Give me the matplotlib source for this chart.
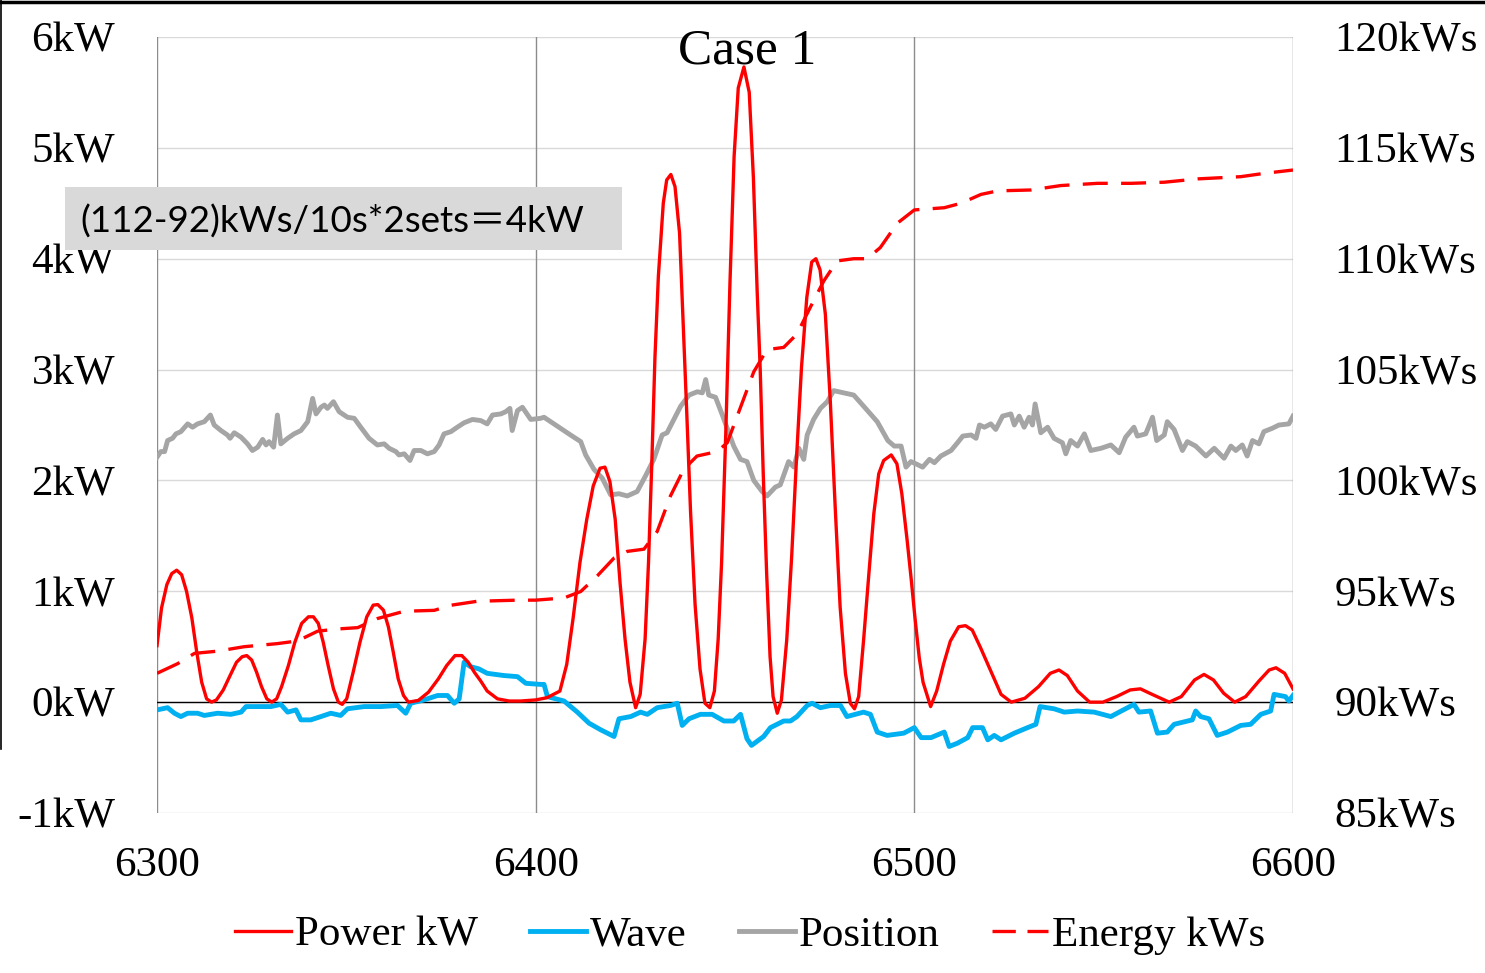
import matplotlib
matplotlib.use("Agg")
import matplotlib.pyplot as plt
from matplotlib.patches import Rectangle
from matplotlib.lines import Line2D

# ---- data ----
power_t = [6300, 6301.2, 6302.6, 6303.9, 6305.2, 6306.5, 6307.8, 6309.2, 6310.5, 6311.8,
           6313.1, 6314.4, 6315.7, 6317.5, 6319.3, 6321.0, 6322.5, 6323.7, 6325.0, 6326.3,
           6327.6, 6329.0, 6330.3, 6331.6, 6332.9, 6334.7, 6336.4, 6338.2, 6340.0, 6341.3,
           6342.6, 6343.9, 6345.2, 6346.6, 6347.9, 6348.9, 6350.1, 6351.8, 6353.6, 6355.4,
           6357.1, 6358.3, 6359.8, 6361.1, 6362.4, 6363.7, 6365.1, 6366.4, 6369.0, 6371.7,
           6374.3, 6376.5, 6378.7, 6380.5, 6382.2, 6383.8, 6385.5, 6387.2, 6389.9, 6393,
           6396, 6400, 6403, 6406.4, 6408.2, 6409.9, 6411.7, 6413.5, 6415.2, 6417.0,
           6418.3, 6419.6, 6421.0, 6422.3, 6423.6, 6424.9, 6426.4, 6427.6, 6428.9, 6429.8,
           6430.7, 6431.5, 6432.4, 6433.7, 6434.6, 6435.7, 6436.8, 6438.0, 6439.0, 6439.9,
           6440.9, 6442.1, 6443.4, 6444.7, 6446.0, 6447.2, 6448.2, 6449.1, 6450.2, 6451.3,
           6452.4, 6453.5, 6455.0, 6456.4, 6457.5, 6458.5, 6459.3, 6460.1, 6461.0, 6461.9,
           6462.7, 6463.8, 6464.9, 6466.3, 6467.6, 6468.9, 6470.2, 6471.6, 6472.9, 6474.0,
           6475.1, 6476.5, 6477.8, 6479.1, 6480.4, 6481.8, 6483.1, 6484.2, 6485.3, 6486.6,
           6488.0, 6489.3, 6490.6, 6491.9, 6493.9, 6495.4, 6496.7, 6498.1, 6499.2, 6500.2,
           6501.3, 6502.3, 6504.3, 6505.9, 6507.7, 6509.5, 6511.7, 6513.5, 6515.3, 6517.5,
           6520.2, 6522.9, 6525.6, 6529.2, 6532.8, 6535.9, 6538.2, 6540.4, 6543.1, 6546.3,
           6549.8, 6553.4, 6557.0, 6559.7, 6562.8, 6567.3, 6570.5, 6574.0, 6576.5, 6579.0,
           6581.7, 6584.6, 6587.5, 6591.0, 6593.7, 6595.5, 6597.8, 6600]
power_kw = [0.51, 0.85, 1.06, 1.16, 1.19, 1.15, 1.00, 0.76, 0.45, 0.18,
            0.03, 0.0, 0.02, 0.11, 0.24, 0.36, 0.41, 0.42, 0.38, 0.27,
            0.14, 0.03, 0.0, 0.03, 0.14, 0.33, 0.54, 0.71, 0.77, 0.77,
            0.71, 0.54, 0.33, 0.12, 0.0, -0.02, 0.03, 0.27, 0.54, 0.77,
            0.875, 0.88, 0.83, 0.68, 0.45, 0.21, 0.06, 0.0, 0.015, 0.09,
            0.21, 0.33, 0.42, 0.42, 0.36, 0.27, 0.19, 0.10, 0.03, 0.01,
            0.01, 0.02, 0.04, 0.10, 0.34, 0.76, 1.26, 1.65, 1.95, 2.11,
            2.12, 1.99, 1.65, 1.07, 0.57, 0.18, -0.05, 0.07, 0.57, 1.26,
            2.19, 3.11, 3.84, 4.50, 4.71, 4.76, 4.65, 4.23, 3.38, 2.61,
            1.72, 0.88, 0.30, -0.01, -0.05, 0.10, 0.57, 1.26, 2.42, 3.77,
            4.92, 5.54, 5.73, 5.50, 4.73, 3.70, 3.00, 2.06, 1.16, 0.41,
            0.05, -0.10, 0.02, 0.56, 1.31, 2.21, 3.02, 3.65, 3.97, 4.00,
            3.90, 3.50, 2.72, 1.76, 0.86, 0.26, -0.01, -0.06, 0.05, 0.56,
            1.16, 1.70, 2.06, 2.18, 2.23, 2.15, 1.88, 1.46, 1.10, 0.75,
            0.40, 0.18, -0.04, 0.10, 0.34, 0.55, 0.68, 0.69, 0.65, 0.49,
            0.28, 0.07, 0.0, 0.035, 0.14, 0.26, 0.29, 0.24, 0.10, 0.0,
            0.0, 0.05, 0.11, 0.12, 0.07, 0.0, 0.05, 0.20, 0.25, 0.20,
            0.08, 0.0, 0.05, 0.19, 0.29, 0.31, 0.26, 0.12]

wave_t = [6300, 6302.8, 6304.6, 6306.3, 6308.1, 6310.7, 6312.5, 6316, 6319.5, 6322.2,
          6323.5, 6326.6, 6330.1, 6332.7, 6334.5, 6336.7, 6338, 6340.6, 6343.3, 6345.9,
          6348.5, 6350.3, 6354.7, 6359.1, 6363.5, 6365.7, 6367, 6370.5, 6374.1, 6376.7,
          6378.5, 6379.8, 6381.1, 6382.8, 6385, 6387.2, 6391.6, 6395.2, 6397.4, 6401.3,
          6402.2, 6403.1, 6407.5, 6411, 6414.1, 6417.2, 6420.7, 6422, 6425.1, 6427.7,
          6429.5, 6432.1, 6435.6, 6437.4, 6438.7, 6440.5, 6443.5, 6446.6, 6449.7, 6452.3,
          6454.1, 6455.8, 6457, 6460.2, 6462, 6465.5, 6467.3, 6469, 6471.7, 6473,
          6475.2, 6477.9, 6480.5, 6482.2, 6486.6, 6488.4, 6490.2, 6492.8, 6497.2, 6500,
          6501.8, 6504.4, 6507.9, 6509.2, 6511.4, 6514.1, 6515.4, 6518, 6519.4, 6521.1,
          6522.9, 6526.4, 6529.9, 6532.1, 6533.2, 6536.9, 6539.6, 6543.1, 6547.5, 6551.9,
          6554.1, 6558, 6559.3, 6562.4, 6564.2, 6566.8, 6568.6, 6573.4, 6574.3, 6575.6,
          6577.8, 6580, 6582.7, 6586.2, 6588.8, 6591.5, 6594.1, 6595, 6598, 6598.9, 6600]
wave_kw = [-0.07, -0.05, -0.10, -0.13, -0.10, -0.10, -0.12, -0.10, -0.11, -0.09,
           -0.04, -0.04, -0.04, -0.02, -0.09, -0.07, -0.16, -0.16, -0.13, -0.10,
           -0.12, -0.06, -0.04, -0.04, -0.03, -0.10, -0.01, 0.02, 0.06, 0.06,
           -0.01, 0.03, 0.36, 0.32, 0.30, 0.26, 0.24, 0.23, 0.17, 0.16,
           0.16, 0.05, 0.01, -0.09, -0.19, -0.25, -0.31, -0.15, -0.13, -0.09,
           -0.11, -0.05, -0.03, -0.01, -0.21, -0.15, -0.11, -0.11, -0.17, -0.17,
           -0.11, -0.33, -0.39, -0.31, -0.23, -0.17, -0.17, -0.13, -0.03, -0.01,
           -0.05, -0.03, -0.03, -0.13, -0.09, -0.11, -0.27, -0.30, -0.28, -0.23,
           -0.32, -0.32, -0.27, -0.40, -0.37, -0.32, -0.23, -0.23, -0.34, -0.30,
           -0.34, -0.28, -0.23, -0.20, -0.04, -0.06, -0.09, -0.08, -0.09, -0.13,
           -0.09, -0.02, -0.09, -0.08, -0.28, -0.27, -0.20, -0.16, -0.08, -0.13,
           -0.15, -0.30, -0.27, -0.21, -0.20, -0.11, -0.08, 0.07, 0.05, 0.01, 0.06]

pos_t = [6300, 6301, 6302, 6302.8, 6304.1, 6305, 6306.3, 6308.1, 6309.4, 6310.7,
         6312.5, 6314.1, 6315.1, 6316.9, 6318.6, 6319.3, 6320.4, 6322.2, 6323.9, 6325.2,
         6326.6, 6327.9, 6328.8, 6329.6, 6330.8, 6331.8, 6332.7, 6334.5, 6336.2, 6338,
         6339.8, 6341.1, 6342, 6343.3, 6344.2, 6345, 6346.6, 6348.1, 6350.3, 6352.1,
         6353.8, 6356, 6358.2, 6360, 6361.3, 6363.1, 6363.9, 6365.3, 6366.8, 6367.9,
         6369.7, 6371.4, 6373.2, 6374.5, 6375.8, 6377.6, 6379.3, 6381.1, 6383.3, 6385.5,
         6387.2, 6388.6, 6390.8, 6392.1, 6393.2, 6393.8, 6395.2, 6396.5, 6398.7, 6401.3,
         6402.2, 6405.7, 6409.2, 6411.9, 6413.2, 6415.4, 6417.6, 6419.8, 6422, 6424.2,
         6426.8, 6429, 6431.2, 6433.4, 6434.7, 6436.5, 6438.3, 6440.5, 6442.7, 6444,
         6444.9, 6445.7, 6447.5, 6449.3, 6451, 6452.3, 6454.1, 6455.8, 6457.6, 6459.8,
         6461.1, 6463.3, 6464.6, 6466.8, 6468.2, 6469.5, 6470.8, 6471.7, 6473.4, 6475.2,
         6477, 6478.7, 6481.4, 6484, 6486.6, 6490.2, 6493, 6494.7, 6496.5, 6497.8,
         6499.1, 6500.4, 6502.2, 6504, 6505.3, 6507, 6509.7, 6511.4, 6512.8, 6515,
         6516.3, 6517.2, 6518.5, 6520.2, 6521.5, 6523.3, 6525.5, 6526.4, 6527.7, 6529,
         6530.3, 6531.2, 6531.9, 6533.4, 6535.2, 6536.9, 6539.1, 6540, 6541.3, 6543.1,
         6544.9, 6546.6, 6549.3, 6551.9, 6554.1, 6555.8, 6558, 6558.9, 6561.1, 6562.9,
         6564, 6566, 6566.8, 6568.6, 6570.8, 6572.1, 6574.3, 6577, 6579.2, 6581.8,
         6583.6, 6584.9, 6586.6, 6587.9, 6589.3, 6591, 6592.3, 6594.5, 6596.3, 6598.9, 6600]
pos_kw = [2.21, 2.26, 2.26, 2.36, 2.38, 2.42, 2.44, 2.51, 2.48, 2.51,
          2.53, 2.59, 2.50, 2.45, 2.41, 2.38, 2.43, 2.39, 2.33, 2.27,
          2.30, 2.37, 2.32, 2.35, 2.30, 2.59, 2.33, 2.38, 2.42, 2.45,
          2.53, 2.74, 2.60, 2.66, 2.68, 2.65, 2.71, 2.62, 2.57, 2.56,
          2.48, 2.38, 2.32, 2.33, 2.29, 2.26, 2.23, 2.24, 2.18, 2.27,
          2.27, 2.24, 2.26, 2.32, 2.42, 2.44, 2.48, 2.52, 2.55, 2.54,
          2.51, 2.59, 2.60, 2.62, 2.65, 2.45, 2.63, 2.66, 2.55, 2.56,
          2.57, 2.49, 2.41, 2.35, 2.23, 2.10, 2.02, 1.87, 1.88, 1.86,
          1.90, 2.04, 2.19, 2.41, 2.43, 2.55, 2.67, 2.77, 2.80, 2.79,
          2.91, 2.77, 2.75, 2.59, 2.43, 2.31, 2.19, 2.17, 2.00, 1.90,
          1.86, 1.94, 1.96, 2.17, 2.12, 2.29, 2.19, 2.41, 2.55, 2.65,
          2.71, 2.81, 2.79, 2.77, 2.67, 2.53, 2.36, 2.31, 2.31, 2.12,
          2.17, 2.15, 2.12, 2.19, 2.16, 2.22, 2.27, 2.34, 2.40, 2.41,
          2.38, 2.50, 2.48, 2.51, 2.46, 2.58, 2.60, 2.50, 2.58, 2.48,
          2.57, 2.50, 2.69, 2.43, 2.48, 2.38, 2.34, 2.24, 2.36, 2.31,
          2.42, 2.27, 2.29, 2.32, 2.25, 2.39, 2.48, 2.40, 2.42, 2.57,
          2.36, 2.41, 2.53, 2.46, 2.27, 2.35, 2.31, 2.22, 2.29, 2.20,
          2.31, 2.27, 2.32, 2.22, 2.36, 2.33, 2.44, 2.47, 2.50, 2.51, 2.58]

energy_t = [6300, 6305.5, 6309.9, 6316, 6323, 6331.8, 6337.1, 6342.4, 6347.7, 6353,
            6358.2, 6365.3, 6373.2, 6377.6, 6384.6, 6395.2, 6400, 6407.5, 6411.9, 6416.3,
            6420.7, 6424.2, 6428.6, 6432.1, 6435.6, 6439.1, 6442.6, 6447.9, 6450.6, 6454.1,
            6457.6, 6461.1, 6465.5, 6469.0, 6472.5, 6476.1, 6479.6, 6484.0, 6487.5, 6491.0,
            6495.5, 6500, 6507.9, 6512.3, 6517.6, 6522, 6530.8, 6538.7, 6548.4, 6557.2,
            6566, 6574.8, 6586.2, 6592.4, 6600]
energy_kws = [91.3, 91.74, 92.2, 92.3, 92.5, 92.64, 92.76, 93.2, 93.3, 93.36,
              93.77, 94.1, 94.14, 94.37, 94.55, 94.6, 94.6, 94.7, 94.99, 95.7,
              96.5, 96.8, 96.9, 97.7, 99.3, 100.5, 101.1, 101.3, 101.7, 103.3,
              104.9, 105.9, 106.0, 106.6, 107.8, 109.0, 109.9, 110.0, 110.0, 110.5,
              111.6, 112.2, 112.3, 112.5, 112.9, 113.06, 113.1, 113.3, 113.4, 113.4,
              113.45, 113.6, 113.7, 113.85, 114.0]

x_ticks = [6300, 6400, 6500, 6600]
left_ticks = [-1, 0, 1, 2, 3, 4, 5, 6]
right_ticks = [85, 90, 95, 100, 105, 110, 115, 120]

red = '#ff0000'
blue = '#00b0f0'
grey = '#a5a5a5'
serif = 'Liberation Serif'

fig = plt.figure(figsize=(14.85, 9.73), dpi=100)
ax = fig.add_axes([157 / 1485, 1 - 813 / 973, (1293 - 157) / 1485, (813 - 37) / 973])
ax2 = ax.twinx()

ax.plot(pos_t, pos_kw, color=grey, lw=3.5, zorder=2)
ax.plot(wave_t, wave_kw, color=blue, lw=3.5, zorder=3)
ax.plot(power_t, power_kw, color=red, lw=2.4, zorder=4)
ax.axhline(0, color='black', lw=1.0, zorder=1.5)
ax2.plot(energy_t, energy_kws, color=red, lw=2.4, dashes=(7.5, 4))

ax.set_xlim(6300, 6600)
ax.set_ylim(-1, 6)
ax2.set_ylim(85, 120)
ax.set_xticks(x_ticks)
ax.set_xticklabels([str(t) for t in x_ticks])
ax.set_yticks(left_ticks)
ax.set_yticklabels([f'{t}kW' for t in left_ticks])
ax2.set_yticks(right_ticks)
ax2.set_yticklabels([f'{t}kWs' for t in right_ticks])

# grid: light horizontal, darker vertical
for t in left_ticks:
    ax.axhline(t, color='#d9d9d9', lw=1.0, zorder=0)
for t in x_ticks:
    ax.axvline(t, color='#8c8c8c', lw=1.0, zorder=0)
for sp in ax.spines.values():
    sp.set_visible(False)
for sp in ax2.spines.values():
    sp.set_visible(False)

ax.tick_params(axis='both', length=0, labelsize=31, labelfontfamily=serif)
ax.tick_params(axis='y', pad=30)
ax.tick_params(axis='x', pad=24)
ax2.tick_params(axis='y', length=0, labelsize=31, labelfontfamily=serif, pad=30)

fig.text(747 / 1485, 1 - 51 / 973, 'Case 1', ha='center', va='center',
         fontsize=37, family=serif, zorder=10)

# annotation box
fig.patches.append(Rectangle((65 / 1485, 1 - 250 / 973), 557 / 1485, 63 / 973,
                             transform=fig.transFigure, facecolor='#d9d9d9',
                             edgecolor='none', zorder=5))
fig.text(80 / 1485, 1 - 222 / 973, '(112-92)kWs/10s*2sets＝4kW', ha='left', va='center',
         fontsize=26.5, family=['Lato', 'Noto Sans CJK JP'], zorder=6)

handles = [Line2D([], [], color=red, lw=2.4),
           Line2D([], [], color=blue, lw=3.5),
           Line2D([], [], color=grey, lw=3.5),
           Line2D([], [], color=red, lw=2.4, dashes=(7, 3.5))]
fig.legend(handles, ['Power kW', 'Wave', 'Position', 'Energy kWs'],
           loc='center', bbox_to_anchor=(750 / 1485, 1 - 935 / 973), ncol=4,
           frameon=False, prop={'family': serif, 'size': 31},
           handlelength=1.3, handletextpad=0.1, columnspacing=1.2)

# frame lines along the top and left edge of the picture
fig.add_artist(Line2D([0, 1], [0.998, 0.998], color='black', lw=2.5, transform=fig.transFigure))
fig.add_artist(Line2D([0.001, 0.001], [0.23, 1], color='black', lw=1.2, transform=fig.transFigure))

fig.savefig('out.png', dpi=100)
